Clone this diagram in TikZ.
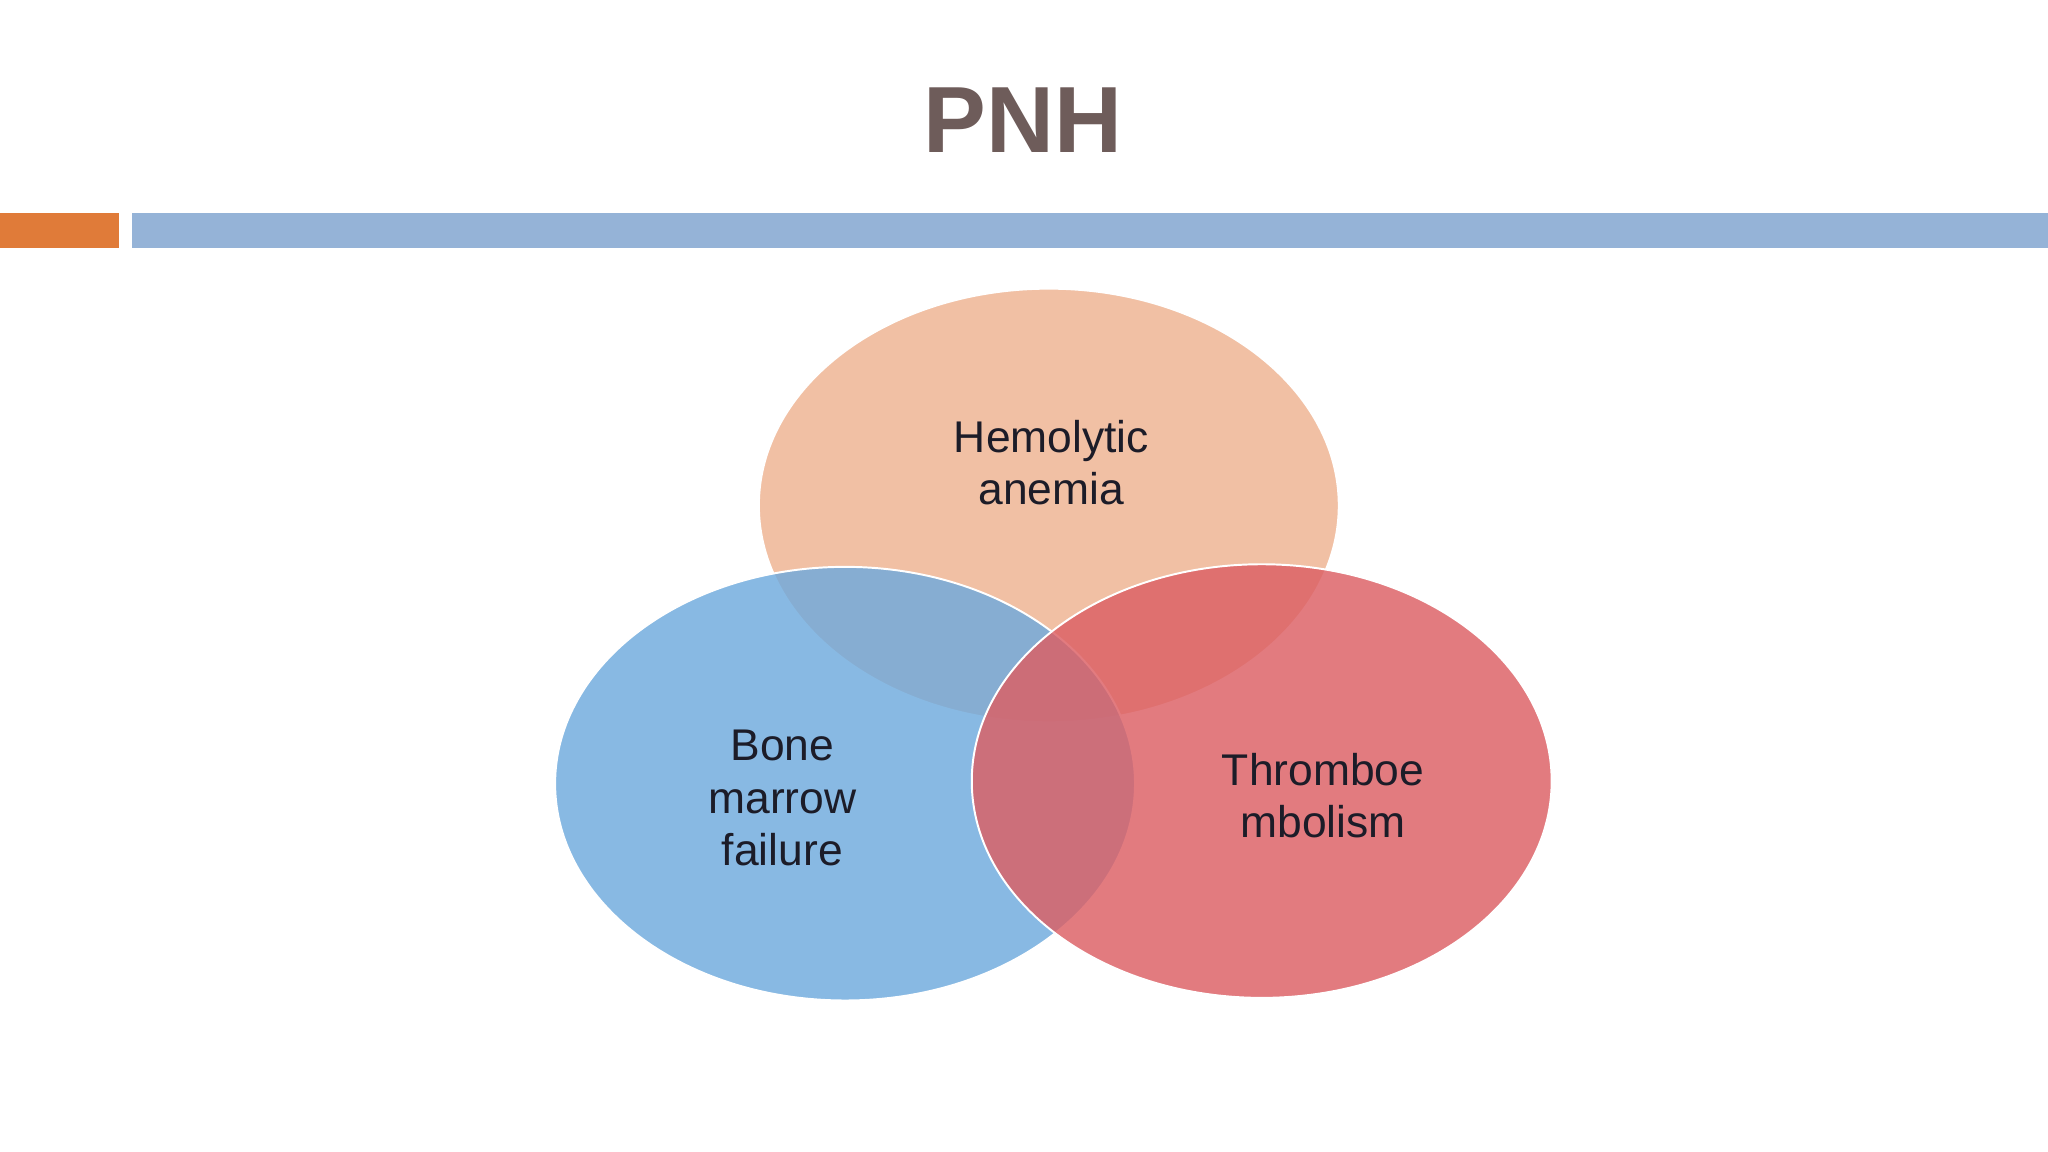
\documentclass[tikz,border=0pt]{standalone}
\usepackage{fontspec}
\setmainfont{Liberation Sans}
\usetikzlibrary{positioning}
\definecolor{titlegray}{HTML}{6E5C5A}
\definecolor{barorange}{HTML}{E07B39}
\definecolor{barblue}{HTML}{95B3D7}
\definecolor{peach}{HTML}{EFB390}
\definecolor{skyblue}{HTML}{6FAADD}
\definecolor{rosered}{HTML}{DC5F64}
\definecolor{labeltext}{HTML}{1C1C28}
\tikzset{circ/.style={ellipse, draw=white, line width=1.5pt, fill opacity=0.82, minimum width=444pt, minimum height=332pt}}
\tikzset{label/.style={font=\fontsize{34}{40}\selectfont, text=labeltext, align=center}}
\usetikzlibrary{shapes.geometric}
\begin{document}
\begin{tikzpicture}[x=1pt,y=-1pt]
    \useasboundingbox[fill=white] (0,0) rectangle (1568,882);

    % Title and bars.
    \node [font=\bfseries\fontsize{72}{80}\selectfont, text=titlegray] (title) at (783,92) {PNH};
    \fill [barorange] (0,163) rectangle (91,190);
    \fill [barblue] (101,163) rectangle (1568,190);

    % Ellipses.
    \node [circ, fill=peach] (hemo) at (803,387) {};
    \node [circ, fill=skyblue] (bone) at (647,600) {};
    \node [circ, fill=rosered] (throm) at (966,598) {};

    % Labels.
    \node [label] (hemotext) at (805,354) {Hemolytic\\anemia};
    \node [label] (bonetext) at (599,611) {Bone\\marrow\\failure};
    \node [label] (thromtext) at (1013,609) {Thromboe\\mbolism};
\end{tikzpicture}
\end{document}
